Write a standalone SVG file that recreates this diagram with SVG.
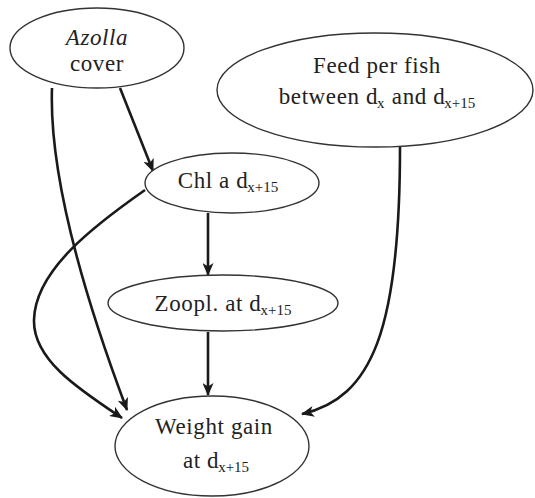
<svg xmlns="http://www.w3.org/2000/svg" width="535" height="498" viewBox="0 0 535 498">
<style>
.n{fill:#fff;stroke:#333;stroke-width:1.4}
.t{font-family:'Liberation Serif','Times New Roman',serif;font-size:23px;letter-spacing:0.6px;fill:#222;text-anchor:middle}
.s{font-size:15px;letter-spacing:0}
.e{fill:none;stroke:#1a1a1a;stroke-width:2.6;marker-end:url(#a)}
</style>
<defs>
<marker id="a" viewBox="0 0 13 11" refX="12" refY="5.5" markerWidth="13" markerHeight="11" markerUnits="userSpaceOnUse" orient="auto">
<path d="M0,0 L13,5.5 L0,11 L3.5,5.5 Z" fill="#1a1a1a"/>
</marker>
</defs>
<rect width="535" height="498" fill="#fff"/>
<g id="connectors">
<path class="e" d="M120,88 L153,171"/>
<path class="e" d="M52,88 Q48,200 127,410"/>
<path class="e" d="M145,190 C95,225 35,270 34,320 C33,360 80,390 122,418"/>
<path class="e" d="M208,213 L208,275"/>
<path class="e" d="M208,332 L208,395"/>
<path class="e" d="M400,147 C400,330 372,398 302,414"/>
</g>
<g id="azolla">
<ellipse class="n" cx="97" cy="48" rx="87" ry="40"/>
<text class="t" x="97" y="45" font-style="italic">Azolla</text>
<text class="t" x="97" y="71">cover</text>
</g>
<g id="feed">
<ellipse class="n" cx="375" cy="90" rx="158" ry="57"/>
<text class="t" x="377" y="73">Feed per fish</text>
<text class="t" x="377" y="104">between d<tspan class="s" dx="-1" dy="4">x</tspan><tspan dx="1" dy="-4"> and d</tspan><tspan class="s" dx="-1" dy="4">x+15</tspan></text>
</g>
<g id="chla">
<ellipse class="n" cx="232" cy="183" rx="87" ry="30"/>
<text class="t" x="228" y="188">Chl a d<tspan class="s" dx="-1" dy="4">x+15</tspan></text>
</g>
<g id="zoopl">
<ellipse class="n" cx="223" cy="303" rx="115" ry="28"/>
<text class="t" x="223" y="311">Zoopl. at d<tspan class="s" dx="-1" dy="4">x+15</tspan></text>
</g>
<g id="weight">
<ellipse class="n" cx="212" cy="446" rx="97" ry="50"/>
<text class="t" x="214" y="434">Weight gain</text>
<text class="t" x="216" y="468">at d<tspan class="s" dx="-1" dy="4">x+15</tspan></text>
</g>
</svg>
